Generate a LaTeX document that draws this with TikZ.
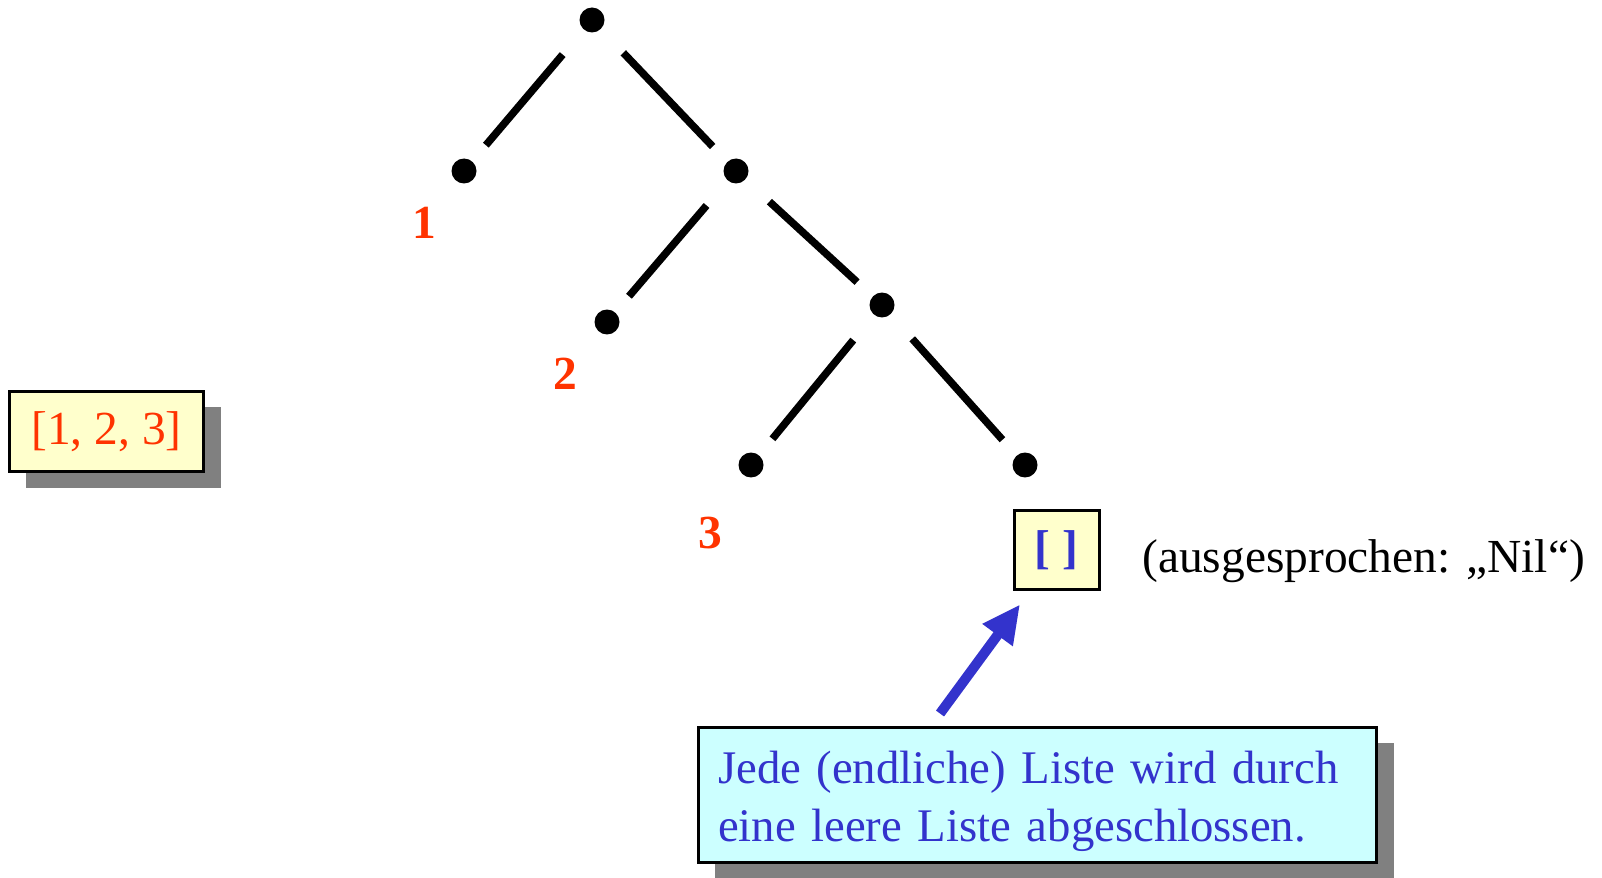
\documentclass[tikz,border=0pt]{standalone}
\usepackage{fontspec}
\setmainfont{Liberation Serif}
\usetikzlibrary{arrows.meta,shadows}

\definecolor{elemred}{HTML}{FF3300}
\definecolor{nilblue}{HTML}{3333CC}
\definecolor{boxyellow}{HTML}{FFFFCC}
\definecolor{notecyan}{HTML}{CCFFFF}

\begin{document}
\begin{tikzpicture}
[
	x=0.02cm, y=-0.02cm,
	every node/.style={font=\fontsize{27}{33}\selectfont},
	dot/.style={circle,fill,inner sep=0pt,minimum size=0.5cm},
	edge/.style={line width=0.15cm,shorten <=0.65cm,shorten >=0.42cm},
	elem/.style={text=elemred,font=\fontsize{27}{33}\selectfont\bfseries},
	listbox/.style={draw,line width=0.06cm,fill=boxyellow,inner sep=0pt},
	boxshadow/.style={drop shadow={shadow xshift=0.34cm,shadow yshift=-0.32cm,fill=black!50,opacity=1}},
	callarrow/.style={nilblue,line width=0.2cm,-{Triangle[length=0.76cm,width=0.7cm]}}
]

	\useasboundingbox (0,0) rectangle (1602,878);

	% cons cells
	\node[dot] (root) at (592,20) {};
	\node[dot] (e1) at (464,171) {};
	\node[dot] (c1) at (736,171) {};
	\node[dot] (e2) at (607,322) {};
	\node[dot] (c2) at (882,305) {};
	\node[dot] (e3) at (751,465) {};
	\node[dot] (nildot) at (1025,465) {};

	\draw[edge] (root) -- (e1);
	\draw[edge] (root) -- (c1);
	\draw[edge] (c1) -- (e2);
	\draw[edge] (c1) -- (c2);
	\draw[edge] (c2) -- (e3);
	\draw[edge] (c2) -- (nildot);

	% elements
	\node[elem] (l1) at (424,223) {1};
	\node[elem] (l2) at (565,374) {2};
	\node[elem] (l3) at (710,533) {3};

	% list literal
	\node[listbox,boxshadow,minimum width=3.9cm,minimum height=1.62cm,text=elemred] (lit) at (106.5,431.5) {\raisebox{-0.08cm}{[1, 2, 3]}};

	% empty list
	\node[listbox,minimum width=1.7cm,minimum height=1.6cm,text=nilblue,font=\fontsize{27}{33}\selectfont\bfseries] (nil) at (1056.5,550) {[ ]};
	\node[anchor=west,inner sep=0pt] (say) at (1142,561) {(ausgesprochen: „Nil“)};

	% note
	\node[listbox,boxshadow,fill=notecyan,text=nilblue,minimum width=13.58cm,minimum height=2.72cm,text width=12.78cm,inner xsep=0.4cm,align=left,
		font=\fontsize{26.6}{33}\selectfont] (note) at (1037.5,795)
		{\rule{0pt}{0.9cm}Jede (endliche) Liste wird durch\\eine leere Liste abgeschlossen.};
	\draw[callarrow] ([xshift=-1.95cm,yshift=0.24cm]note.north) -- ([xshift=-0.73cm,yshift=-0.26cm]nil.south);

\end{tikzpicture}
\end{document}
